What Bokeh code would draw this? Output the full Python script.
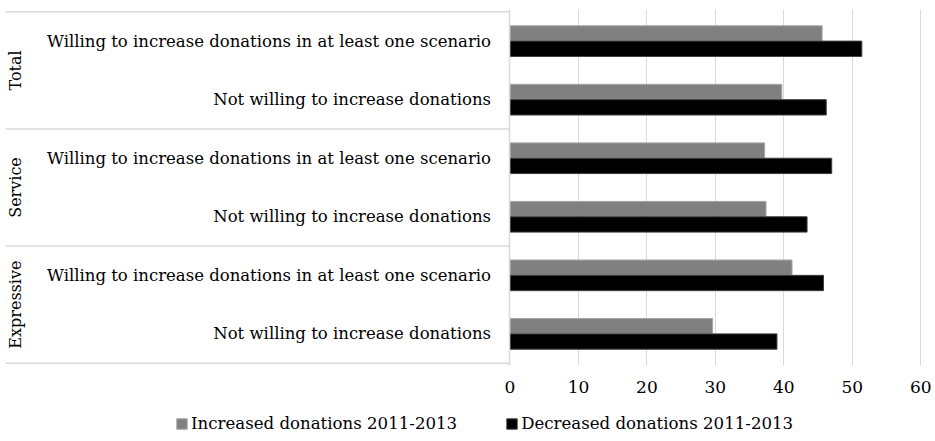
from bokeh.plotting import figure
from bokeh.layouts import column
from bokeh.models import (FactorRange, Range1d, ColumnDataSource, FixedTicker,
                          Legend, LegendItem)
from bokeh.transform import dodge
from bokeh.embed import file_html
from bokeh.resources import INLINE

groups = ["Total", "Service", "Expressive"]
subcats = ["Willing to increase donations in at least one scenario",
           "Not willing to increase donations"]
increased = [45.6, 39.7, 37.2, 37.4, 41.2, 29.6]
decreased = [51.4, 46.2, 47.0, 43.4, 45.8, 39.0]
x_ticks = [0, 10, 20, 30, 40, 50, 60]
series_names = ["Increased donations 2011-2013", "Decreased donations 2011-2013"]

FONT = "DejaVu Serif"
GRID = "#d9d9d9"
INC_FILL, INC_LINE = "#808080", "#a6a6a6"
DEC_FILL, DEC_LINE = "#000000", "#404040"

factors = [(g, s) for g in groups for s in subcats]
src = ColumnDataSource(dict(cat=factors, inc=increased, dec=decreased))

x_start, x_end = -73.7, 60.7
y_range = FactorRange(*factors[::-1], group_padding=0, factor_padding=0,
                      range_padding=0.04, range_padding_units="absolute")
p = figure(width=935, height=400, y_range=y_range, tools="",
           x_range=Range1d(x_start, x_end), output_backend="svg",
           toolbar_location=None, min_border_left=5, min_border_right=10,
           min_border_top=9, min_border_bottom=35)
p.outline_line_color = None
p.ygrid.grid_line_color = None
p.xgrid.ticker = FixedTicker(ticks=x_ticks)
p.xgrid.grid_line_color = GRID

# separators between groups (left table)
n = len(subcats)
bounds = [i * n for i in range(len(groups) + 1)]
p.segment(x0=[x_start] * len(bounds), x1=[0] * len(bounds), y0=bounds, y1=bounds,
          line_color=GRID, line_width=1.5)

p.hbar(y=dodge("cat", 0.131, range=p.y_range), left=0, right="inc",
       height=0.262, source=src, fill_color=INC_FILL, line_color=INC_LINE)
p.hbar(y=dodge("cat", -0.131, range=p.y_range), left=0, right="dec",
       height=0.262, source=src, fill_color=DEC_FILL, line_color=DEC_LINE)

xa = p.xaxis[0]
xa.ticker = FixedTicker(ticks=x_ticks)
xa.axis_line_color = None
xa.major_tick_line_color = None
xa.minor_tick_line_color = None
xa.major_tick_out = 0
xa.major_tick_in = 0
xa.major_label_standoff = 15
xa.major_label_text_font = FONT
xa.major_label_text_font_size = "17px"
xa.major_label_text_color = "#000000"

ya = p.yaxis[0]
ya.fixed_location = 0
ya.axis_line_color = GRID
ya.axis_line_width = 1.5
ya.major_tick_line_color = None
ya.minor_tick_line_color = None
ya.major_tick_out = 0
ya.major_tick_in = 0
ya.major_label_standoff = 19
ya.major_label_text_font = FONT
ya.major_label_text_font_size = "16.5px"
ya.major_label_text_color = "#000000"
ya.group_text_font = FONT
ya.group_text_font_size = "16px"
ya.group_text_color = "#000000"
ya.group_text_font_style = "normal"
ya.group_label_orientation = "vertical"
ya.separator_line_color = None

# legend strip below the chart (its bar renderers are hidden; only the legend shows)
p2 = figure(width=935, height=41, y_range=y_range, x_range=Range1d(x_start, x_end),
            output_backend="svg", toolbar_location=None, tools="",
            min_border_left=0, min_border_right=0, min_border_top=0,
            min_border_bottom=0)
p2.axis.visible = False
p2.grid.visible = False
p2.outline_line_color = None
l1 = p2.hbar(y=dodge("cat", 0.131, range=p2.y_range), left=0, right="inc",
             height=0.262, source=src, fill_color=INC_FILL, line_color=INC_LINE)
l2 = p2.hbar(y=dodge("cat", -0.131, range=p2.y_range), left=0, right="dec",
             height=0.262, source=src, fill_color=DEC_FILL, line_color=DEC_LINE)
l1.visible = False
l2.visible = False
legend = Legend(items=[LegendItem(label=series_names[0], renderers=[l1]),
                       LegendItem(label=series_names[1], renderers=[l2])],
                orientation="horizontal", location=(170, 8),
                border_line_color=None, background_fill_alpha=0,
                inactive_fill_alpha=0,
                label_text_font=FONT, label_text_font_size="16.6px",
                label_text_color="#000000",
                glyph_width=13, glyph_height=13, spacing=48, padding=0,
                margin=0, label_standoff=3)
p2.add_layout(legend)

layout = column(p, p2, spacing=0)
open("out.html", "w").write(file_html(layout, INLINE))
